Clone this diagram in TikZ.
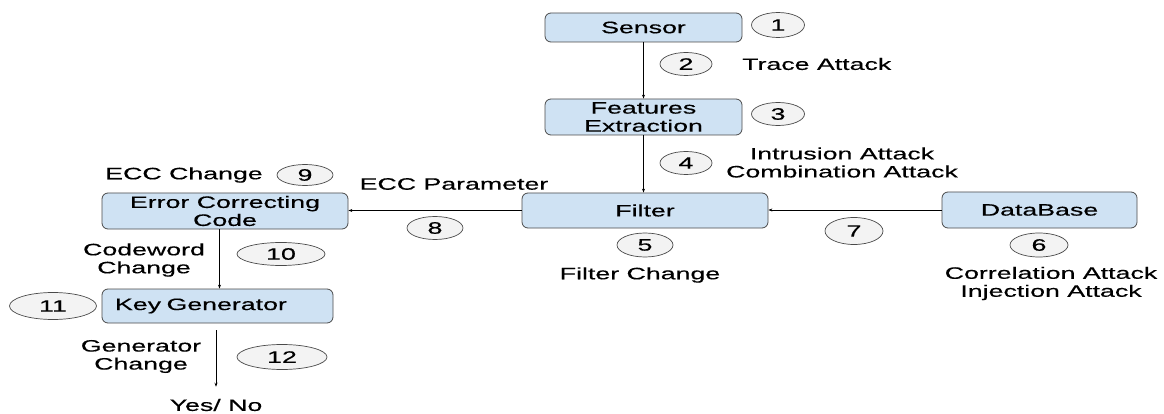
\documentclass[tikz,border=0pt]{standalone}
\usepackage{fontspec}
\setmainfont{Liberation Sans}[FakeStretch=1.62,FakeBold=0.4]
\usetikzlibrary{arrows.meta,shapes.geometric}
\definecolor{boxfill}{HTML}{CFE2F3}
\definecolor{boxline}{HTML}{4A4A4A}
\definecolor{ellfill}{HTML}{F3F3F3}
\tikzset{
  every node/.style={font=\fontsize{16.5}{18}\selectfont, inner sep=0pt},
  blk/.style={draw=boxline, fill=boxfill, line width=0.8pt, rounded corners=6pt, align=center},
  num/.style={draw=boxline, fill=ellfill, line width=0.7pt, ellipse, inner sep=0pt},
  txt/.style={align=center},
  arr/.style={line width=0.8pt, -{Stealth[length=4pt,width=3pt]}}
}
\begin{document}
\begin{tikzpicture}[x=1pt,y=-1pt]
\useasboundingbox (0,0) rectangle (1164,414);
% boxes
\node[blk, minimum width=197pt, minimum height=29pt] (sensor) at (643.5,27.5) {Sensor};
\node[blk, minimum width=197pt, minimum height=36pt] (feat) at (643.5,117) {Features\\Extraction};
\node[blk, minimum width=246pt, minimum height=35pt] (filter) at (645,210.5) {Filter};
\node[blk, minimum width=195pt, minimum height=36pt] (db) at (1039.5,210) {DataBase};
\node[blk, minimum width=246pt, minimum height=36pt] (ecc) at (225,211) {Error Correcting\\Code};
\node[blk, minimum height=34pt, text width=205pt, inner xsep=13pt, align=left] (kg) at (217.5,306) {Key Generator};
% numbered ellipses
\node[num, minimum width=53pt, minimum height=25pt] (n1) at (778,25) {1};
\node[num, minimum width=52pt, minimum height=23pt] (n2) at (686,64) {2};
\node[num, minimum width=53pt, minimum height=23pt] (n3) at (778,114) {3};
\node[num, minimum width=52pt, minimum height=23pt] (n4) at (686,163) {4};
\node[num, minimum width=56pt, minimum height=24pt] (n5) at (645,245) {5};
\node[num, minimum width=58pt, minimum height=24pt] (n6) at (1039,245) {6};
\node[num, minimum width=58pt, minimum height=27pt] (n7) at (854,231) {7};
\node[num, minimum width=56pt, minimum height=23pt] (n8) at (435,228) {8};
\node[num, minimum width=56pt, minimum height=21pt] (n9) at (305,175) {9};
\node[num, minimum width=88pt, minimum height=23pt] (n10) at (281,254) {10};
\node[num, minimum width=87pt, minimum height=27pt] (n11) at (53,306) {11};
\node[num, minimum width=90pt, minimum height=25pt] (n12) at (282,357) {12};
% texts
\node[txt, anchor=west] (trace) at (742,64) {Trace Attack};
\node[txt] (intr) at (842,162.5) {Intrusion Attack\\Combination Attack};
\node[txt] (eccch) at (184,175) {ECC Change};
\node[txt] (eccpar) at (454,184) {ECC Parameter};
\node[txt] (filch) at (640,275) {Filter Change};
\node[txt] (corr) at (1051,283.5) {Correlation Attack\\Injection Attack};
\node[txt] (cw) at (144,260) {Codeword\\Change};
\node[txt] (gen) at (141,356.5) {Generator\\Change};
\node[txt] (yn) at (216,405) {Yes/ No};
% connectors
\draw[arr] (sensor.south) -- (feat.north);
\draw[arr] (feat.south) -- (filter.north -| feat.south);
\draw[arr] (db.west) -- (db.west -| filter.east);
\draw[arr] (filter.west) -- (filter.west -| ecc.east);
\draw[arr] ([xshift=2pt]kg.north |- ecc.south) -- ([xshift=2pt]kg.north);
\draw[arr, shorten <=7pt, shorten >=12pt] (kg.south -| yn.north) -- (yn.north);
\end{tikzpicture}
\end{document}
